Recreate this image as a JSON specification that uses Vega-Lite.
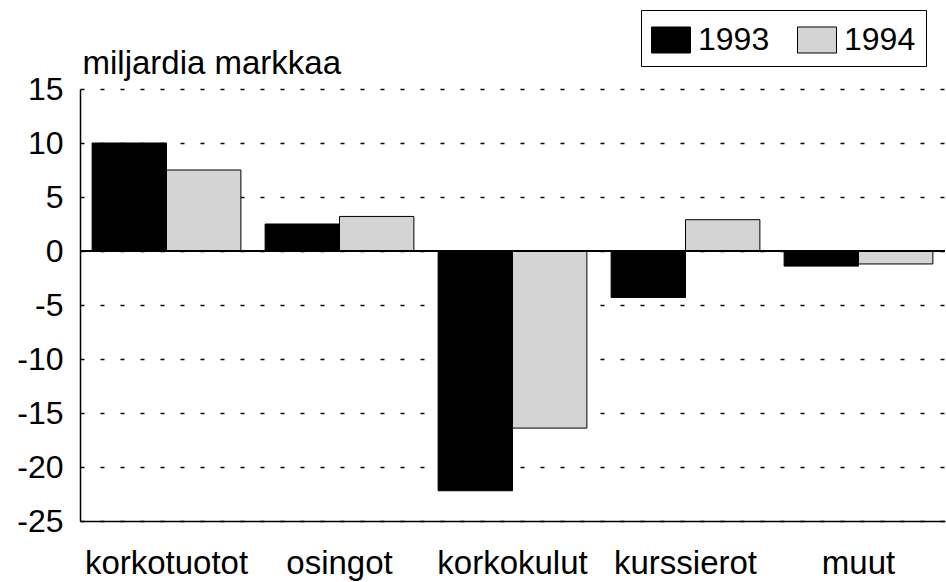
{
  "$schema": "https://vega.github.io/schema/vega-lite/v6.json",
  "width": 865,
  "height": 432,
  "autosize": {"type": "none"},
  "padding": {"left": 80, "top": 89, "right": 1, "bottom": 61},
  "background": "white",
  "config": {"view": {"stroke": null}, "font": "Liberation Sans"},
  "data": {
    "values": [
      {"erä": "korkotuotot", "vuosi": "1993", "arvo": 10.0},
      {"erä": "korkotuotot", "vuosi": "1994", "arvo": 7.5},
      {"erä": "osingot", "vuosi": "1993", "arvo": 2.5},
      {"erä": "osingot", "vuosi": "1994", "arvo": 3.2},
      {"erä": "korkokulut", "vuosi": "1993", "arvo": -22.2},
      {"erä": "korkokulut", "vuosi": "1994", "arvo": -16.4},
      {"erä": "kurssierot", "vuosi": "1993", "arvo": -4.3},
      {"erä": "kurssierot", "vuosi": "1994", "arvo": 2.9},
      {"erä": "muut", "vuosi": "1993", "arvo": -1.4},
      {"erä": "muut", "vuosi": "1994", "arvo": -1.2}
    ]
  },
  "layer": [
    {
      "mark": {"type": "bar", "stroke": "black", "strokeWidth": 1},
      "encoding": {
        "x": {
          "field": "erä",
          "type": "nominal",
          "sort": ["korkotuotot", "osingot", "korkokulut", "kurssierot", "muut"],
          "scale": {"paddingInner": 0.14, "paddingOuter": 0.07},
          "axis": {
            "title": null,
            "labelFontSize": 33,
            "labelColor": "black",
            "labelAngle": 0,
            "ticks": false,
            "labelPadding": 52,
            "labelBaseline": "alphabetic",
            "labelLimit": 400,
            "domainColor": "black",
            "domainWidth": 1.5,
            "grid": false
          }
        },
        "xOffset": {
          "field": "vuosi",
          "type": "nominal",
          "scale": {"paddingInner": 0, "paddingOuter": 0}
        },
        "y": {
          "field": "arvo",
          "type": "quantitative",
          "scale": {"domain": [-25, 15], "nice": false, "zero": false},
          "axis": {
            "values": [-25, -20, -15, -10, -5, 0, 5, 10, 15],
            "labelExpr": "toString(datum.value)",
            "title": "miljardia markkaa",
            "titleAngle": 0,
            "titleX": 2,
            "titleY": -16,
            "titleAlign": "left",
            "titleBaseline": "alphabetic",
            "titleFontSize": 33,
            "titleFontWeight": "normal",
            "titleColor": "black",
            "labelFontSize": 32,
            "labelColor": "black",
            "labelPadding": 17,
            "labelBaseline": "middle",
            "ticks": false,
            "domainColor": "black",
            "domainWidth": 1.5,
            "grid": true,
            "gridColor": "black",
            "gridDash": [4, 16],
            "gridWidth": 1.5
          }
        },
        "fill": {
          "field": "vuosi",
          "type": "nominal",
          "scale": {"domain": ["1993", "1994"], "range": ["#000000", "#d4d4d4"]},
          "legend": {
            "orient": "none",
            "legendX": 561,
            "legendY": -79,
            "direction": "horizontal",
            "title": null,
            "symbolType": "M-1,-0.667H1V0.667H-1Z",
            "symbolSize": 1521,
            "symbolStrokeColor": "black",
            "symbolStrokeWidth": 1,
            "symbolOpacity": 1,
            "labelFontSize": 32,
            "labelColor": "black",
            "labelOffset": 7,
            "columnPadding": 25,
            "padding": 10,
            "strokeColor": "black",
            "fillColor": "white"
          }
        }
      }
    },
    {
      "mark": {"type": "rule", "color": "black", "strokeWidth": 1.5},
      "encoding": {"y": {"datum": 0}}
    }
  ]
}
